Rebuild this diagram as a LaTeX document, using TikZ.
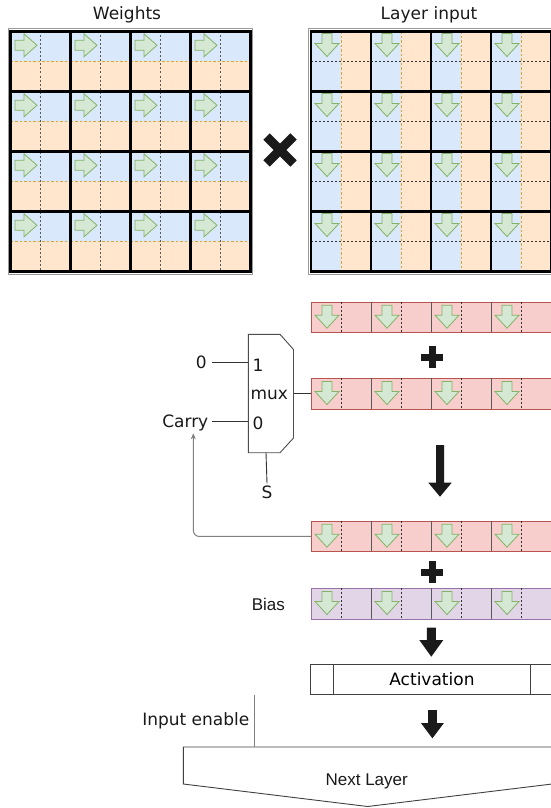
\documentclass[tikz,border=0pt]{standalone}
\usepackage{fontspec}
\setmainfont{DejaVu Sans}
\newfontfamily\arialfont{Liberation Sans}
\usetikzlibrary{arrows.meta}
\definecolor{cblue}{HTML}{DAE8FC}
\definecolor{corange}{HTML}{FFE6CC}
\definecolor{cdorange}{HTML}{E0A52A}
\definecolor{cgreen}{HTML}{D5E8D4}
\definecolor{cdgreen}{HTML}{82B366}
\definecolor{cred}{HTML}{F8CECC}
\definecolor{cdred}{HTML}{B85450}
\definecolor{cpurple}{HTML}{E1D5E7}
\definecolor{cdpurple}{HTML}{9673A6}
\definecolor{cblack}{HTML}{1A1A1A}
\tikzset{
  garrow/.style={fill=cgreen, draw=cdgreen, line width=0.8, line join=miter},
  garrowD/.pic={\path[garrow] (-5,0) -- (5,0) -- (5,10) -- (12,10) -- (0,23) -- (-12,10) -- (-5,10) -- cycle;},
  garrowR/.pic={\path[garrow] (0,-5) -- (9,-5) -- (9,-11.5) -- (22,0) -- (9,11.5) -- (9,5) -- (0,5) -- cycle;},
  gridline/.style={line width=2.6, draw=black, line cap=rect},
  outframe/.style={draw=black!40, line width=0.7},
  odash/.style={draw=cdorange, line width=0.8, dash pattern=on 2.5pt off 2pt},
  gdash/.style={draw=black!65, line width=0.8, dash pattern=on 2pt off 2pt},
  ddash/.style={draw=black!80, line width=0.8, dash pattern=on 2pt off 2pt},
  sepline/.style={draw=black!65, line width=0.9},
  wire/.style={draw=black!80, line width=0.9},
  fbwire/.style={draw=black!50, line width=1},
  lbl/.style={inner sep=0, text=black!90},
  redrow/.style={fill=cred, draw=cdred, line width=0.9},
  purprow/.style={fill=cpurple, draw=cdpurple, line width=0.9},
  muxshape/.style={draw=black!70, line width=0.9, fill=white},
  boxline/.style={draw=black!75, line width=0.9},
}
\newcommand{\vecrow}[3]{%
  \node[#3, anchor=north west, minimum width=300, minimum height=30.6, inner sep=0] (#1) at (311,#2) {};
  \foreach \i in {0,...,3}{
    \draw[sepline] (371+60*\i,#2) -- ++(0,30.6);
    \draw[ddash] (341+60*\i,#2) -- ++(0,30.6);
    \pic at (327+60*\i,#2+3.5) {garrowD};
  }%
}
\newcommand{\blkarrow}[6]{%
  \fill[cblack] (#1-#5,#2) -- (#1+#5,#2) -- (#1+#5,#3) -- (#1+#6,#3) -- (#1,#4) -- (#1-#6,#3) -- (#1-#5,#3) -- cycle;}
\begin{document}
\begin{tikzpicture}[x=1pt,y=-1pt,font=\fontsize{17}{20}\selectfont]
\useasboundingbox (0,0) rectangle (551,808);
\clip (0,0) rectangle (551,808);
% ---------- Weights matrix ----------
\foreach \i in {0,...,3}{\foreach \j in {0,...,3}{
  \begin{scope}[shift={(10.5+60*\i,31.5+60*\j)}]
    \fill[cblue] (0,0) rectangle (60,30);
    \fill[corange] (0,30) rectangle (60,60);
    \draw[odash] (0,30) -- (60,30);
    \draw[gdash] (30,0) -- (30,60);
    \pic at (4.5,13.8) {garrowR};
  \end{scope}
}}
\draw[outframe] (8.3,28.8) rectangle (252.7,274.2);
\foreach \k in {0,...,4}{
  \draw[gridline] (10.5+60*\k,31.5) -- (10.5+60*\k,271.5);
  \draw[gridline] (10.5,31.5+60*\k) -- (250.5,31.5+60*\k);
}
% ---------- Layer input matrix ----------
\foreach \i in {0,...,3}{\foreach \j in {0,...,3}{
  \begin{scope}[shift={(311+60*\i,31.5+60*\j)}]
    \fill[cblue] (0,0) rectangle (30,60);
    \fill[corange] (30,0) rectangle (60,60);
    \draw[odash] (30,0) -- (30,60);
    \draw[ddash] (0,30) -- (60,30);
    \pic at (16,2) {garrowD};
  \end{scope}
}}
\draw[outframe] (308.8,28.8) rectangle (560,274.2);
\foreach \k in {0,...,4}{
  \draw[gridline] (311+60*\k,31.5) -- (311+60*\k,271.5);
  \draw[gridline] (311,31.5+60*\k) -- (560,31.5+60*\k);
}
% titles
\node[lbl, anchor=base] (wtitle) at (127,20) {Weights};
\node[lbl, anchor=base] (ltitle) at (429,19.5) {Layer input};
% multiply cross
\draw[cblack, line width=9] (266.5,136.5) -- (293.5,163.5) (293.5,136.5) -- (266.5,163.5);
% ---------- vector rows ----------
\vecrow{r1}{301.7}{redrow}
\vecrow{r2}{378}{redrow}
\vecrow{r3}{520.7}{redrow}
\vecrow{bias}{588}{purprow}
% plus signs
\draw[cblack, line width=7] (421,357) -- (443,357) (432,346) -- (432,368);
\draw[cblack, line width=7] (421,572) -- (443,572) (432,561) -- (432,583);
% block arrows
\blkarrow{440}{445}{482.7}{496.7}{4}{11.7}
\blkarrow{431.3}{627.7}{640}{656.7}{4.5}{12}
\blkarrow{432.4}{710}{723}{738.3}{4.4}{11.5}
% ---------- mux ----------
\path[muxshape] (248.3,334.3) -- (280,334.3) -- (293.5,349.5) -- (293.5,438) -- (280,452.7) -- (248.3,452.7) -- cycle;
\coordinate (mi1) at (248.3,362);
\coordinate (mi0) at (248.3,421.5);
\coordinate (mo) at (293.5,393.3);
\coordinate (ms) at (266,452.7);
\node[lbl, anchor=base west] (m1) at (252.3,371.7) {1};
\node[lbl, anchor=base west] (mlabel) at (250.3,399.3) {mux};
\node[lbl, anchor=base west] (m0) at (252.3,429.3) {0};
\node[lbl, anchor=east, inner sep=0] (in1) at (207,362) {0};
\node[lbl, anchor=base east] (carry) at (208.5,427.3) {Carry};
\node[lbl, anchor=center] (sel) at (267,492) {S};
\draw[wire] ([xshift=4.5pt]in1.east) -- (mi1);
\draw[wire] ([xshift=3.5pt]mi0 -| carry.east) -- (mi0);
\draw[wire] (mo) -- (r2.west |- mo);
\draw[wire] (ms) -- ([yshift=2pt]sel.north);
% feedback
\coordinate (fbtip) at (193.3,433.3);
\draw[fbwire, rounded corners=6, -{Stealth[length=6pt,width=5pt]}] (r3.west) -| (fbtip);
% bias label
\node[lbl, font=\arialfont\fontsize{17}{20}\selectfont, anchor=base] (biaslbl) at (268.3,610.7) {Bias};
% ---------- activation ----------
\node[boxline, anchor=north west, minimum width=244, minimum height=30, inner sep=0] (act) at (309.5,664) {Activation};
\draw[boxline] ([xshift=24pt]act.north west) -- ([xshift=24pt]act.south west);
\draw[boxline] ([xshift=-24pt]act.north east) -- ([xshift=-24pt]act.south east);
% ---------- next layer ----------
\path[boxline] (183.3,747) -- (552,747) -- (552,784) -- (367.6,806.5) -- (183.3,784) -- cycle;
\node[lbl, font=\arialfont\fontsize{17}{20}\selectfont, anchor=base] (nl) at (366.7,785.7) {Next Layer};
\coordinate (ietop) at (254,695);
\coordinate (iebot) at (254,747);
\node[lbl, anchor=base east] (ie) at (249.5,725) {Input enable};
\draw[fbwire] (ietop) -- (iebot);
\end{tikzpicture}
\end{document}
